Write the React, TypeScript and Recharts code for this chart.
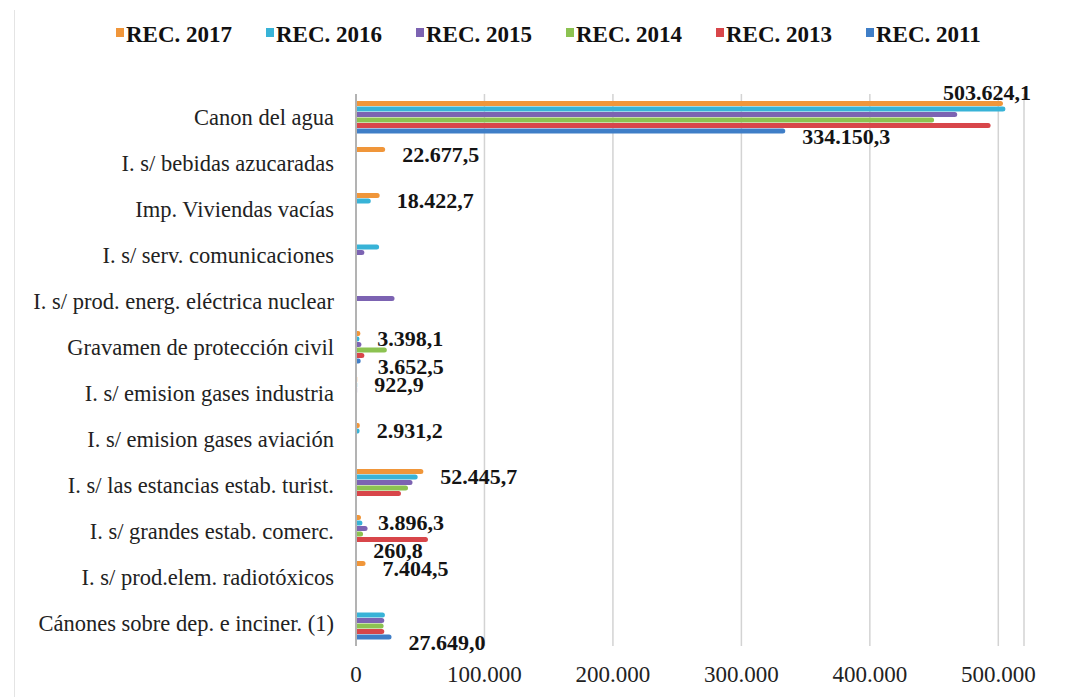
import { BarChart, Bar, XAxis, YAxis, CartesianGrid, Legend, LabelList } from 'recharts'

const categories = [
    'Canon del agua',
    'I. s/ bebidas azucaradas',
    'Imp. Viviendas vacías',
    'I. s/ serv. comunicaciones',
    'I. s/ prod. energ. eléctrica nuclear',
    'Gravamen de protección civil',
    'I. s/ emision gases industria',
    'I. s/ emision gases aviación',
    'I. s/ las estancias  estab. turist.',
    'I. s/ grandes  estab. comerc.',
    'I. s/ prod.elem. radiotóxicos',
    'Cánones sobre dep. e inciner. (1)',
]

const rec2017 = [503624.1, 22677.5, 18422.7, 0, 0, 3398.1, 922.9, 2931.2, 52445.7, 3896.3, 7404.5, 0]
const rec2016 = [505500, 0, 11500, 18000, 0, 2600, 900, 2700, 48000, 5000, 0, 22500]
const rec2015 = [468000, 0, 0, 6500, 30000, 4200, 850, 0, 44000, 9000, 0, 22000]
const rec2014 = [450000, 0, 0, 0, 0, 24000, 0, 0, 40500, 5500, 0, 21500]
const rec2013 = [494000, 0, 0, 0, 0, 6500, 0, 0, 35000, 56000, 0, 22000]
const rec2011 = [334150.3, 0, 0, 0, 0, 3652.5, 0, 0, 0, 260.8, 0, 27649.0]

const xTicks = [0, 100000, 200000, 300000, 400000, 500000]

// which points carry a data label (category indexes)
const labeled: Record<string, number[]> = {
    rec2017: [0, 1, 2, 5, 6, 7, 8, 9, 10],
    rec2011: [0, 5, 9, 11],
}

const series = [
    { key: 'rec2017', name: 'REC. 2017', color: '#F0963A', values: rec2017 },
    { key: 'rec2016', name: 'REC. 2016', color: '#38B3D7', values: rec2016 },
    { key: 'rec2015', name: 'REC. 2015', color: '#7C63B2', values: rec2015 },
    { key: 'rec2014', name: 'REC. 2014', color: '#8CC251', values: rec2014 },
    { key: 'rec2013', name: 'REC. 2013', color: '#D8464A', values: rec2013 },
    { key: 'rec2011', name: 'REC. 2011', color: '#3F7EC7', values: rec2011 },
]

const data = categories.map((category, i) => {
    const row: Record<string, string | number> = { category }
    series.forEach(s => { row[s.key] = s.values[i] })
    return row
})

const SERIF = "'Liberation Serif', 'DejaVu Serif', serif"

function formatEs(v: number, decimals = 0) {
    const [int, dec] = v.toFixed(decimals).split('.')
    const grouped = int.replace(/\B(?=(\d{3})+(?!\d))/g, '.')
    return dec ? `${grouped},${dec}` : grouped
}

// LabelList skips empty bars, so find the category from the value itself
const makeLabel = (s: typeof series[number]) => (props: any) => {
    const { x, y, width, height, value } = props
    const idx = (labeled[s.key] || []).find(i => s.values[i] === Number(value))
    if (idx === undefined) return null
    const cy = Number(y) + Number(height) / 2
    const end = Number(x) + Number(width)
    const above = s.key === 'rec2017' && idx === 0
    return (
        <text
            x={above ? end + 28 : end + 17}
            y={above ? cy - 11 : cy + 5}
            textAnchor={above ? 'end' : 'start'}
            dominantBaseline="central"
            fontFamily={SERIF}
            fontWeight="bold"
            fontSize={22}
            fill="#141414"
        >
            {formatEs(Number(value), 1)}
        </text>
    )
}

const LegendContent = () => (
    <div style={{ display: 'flex', paddingLeft: 116 }}>
        {series.map(s => (
            <div key={s.key} style={{ display: 'flex', alignItems: 'flex-start', width: 150 }}>
                <span style={{ width: 8, height: 9, background: s.color, marginTop: 6, marginRight: 2, display: 'inline-block' }} />
                <span style={{ fontFamily: SERIF, fontWeight: 'bold', fontSize: 23, color: '#111', lineHeight: '26px' }}>{s.name}</span>
            </div>
        ))}
    </div>
)

export default function App() {
    return (
        <div style={{ position: 'absolute', left: 0, top: 0, width: 1074, height: 697, background: '#fff' }}>
            <div style={{ position: 'absolute', left: 14, top: 10, width: 1, height: 687, background: '#e4e4e4' }} />
            <BarChart
                width={1074}
                height={697}
                data={data}
                layout="vertical"
                margin={{ top: 68, right: 50, bottom: 11, left: 0 }}
                barCategoryGap={7}
                barGap={0.5}
            >
                <CartesianGrid horizontal={false} stroke="#d3d3d3" strokeWidth={1.5} />
                <XAxis
                    type="number"
                    domain={[0, 520000]}
                    ticks={xTicks}
                    tickFormatter={(v: number) => formatEs(v)}
                    axisLine={false}
                    tickLine={false}
                    tickSize={0}
                    tickMargin={20}
                    height={40}
                    tick={{ fill: '#222', fontSize: 23, fontFamily: SERIF }}
                />
                <YAxis
                    type="category"
                    dataKey="category"
                    width={356}
                    interval={0}
                    tickLine={false}
                    tickSize={0}
                    tickMargin={22}
                    axisLine={{ stroke: '#b3b3b3', strokeWidth: 2 }}
                    tick={{ fill: '#222', fontSize: 22.5, fontFamily: SERIF }}
                />
                <Legend verticalAlign="top" content={<LegendContent />} wrapperStyle={{ top: 22, left: 0, width: 1074 }} />
                {series.map(s => (
                    <Bar
                        key={s.key}
                        dataKey={s.key}
                        name={s.name}
                        fill={s.color}
                        radius={[0, 3, 3, 0]}
                        isAnimationActive={false}
                    >
                        <LabelList dataKey={s.key} content={makeLabel(s)} />
                    </Bar>
                ))}
            </BarChart>
        </div>
    )
}
